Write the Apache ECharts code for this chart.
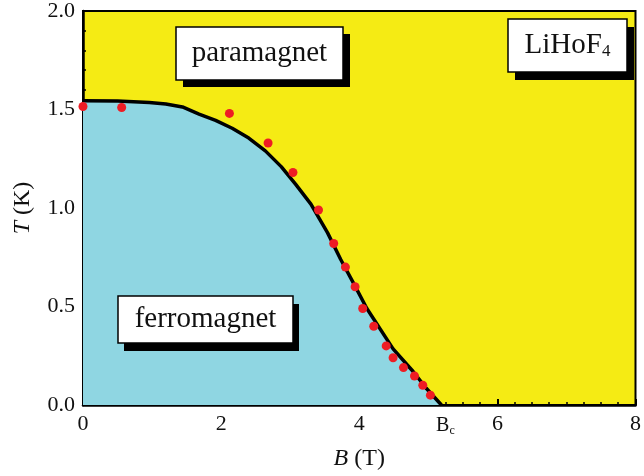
<!DOCTYPE html>
<html><head><meta charset="utf-8">
<script src="https://cdn.jsdelivr.net/npm/echarts@6/dist/echarts.min.js"></script>
<style>html,body{margin:0;padding:0;background:#fff}#c{width:644px;height:476px}</style>
</head><body><div id="c"></div>
<script>
// Phase boundary (mean-field curve): B (T), T (K)
const curveB = [0, 0.5, 0.96, 1.2, 1.44, 1.68, 1.92, 2.16, 2.40, 2.64, 2.87, 3.08, 3.30, 3.54, 3.73, 3.93, 4.11, 4.49, 4.78, 4.97, 5.19];
const curveT = [1.545, 1.543, 1.535, 1.528, 1.513, 1.477, 1.445, 1.405, 1.355, 1.29, 1.21, 1.12, 1.02, 0.875, 0.74, 0.61, 0.49, 0.285, 0.17, 0.085, 0.0];
// Experimental points
const dataB = [0.0, 0.56, 2.12, 2.68, 3.04, 3.41, 3.63, 3.80, 3.94, 4.05, 4.21, 4.39, 4.49, 4.64, 4.80, 4.92, 5.03];
const dataT = [1.515, 1.51, 1.48, 1.33, 1.18, 0.99, 0.82, 0.70, 0.60, 0.49, 0.40, 0.30, 0.24, 0.19, 0.147, 0.10, 0.05];
const xTicks = [0, 2, 4, 6, 8];
const yTicks = [0.0, 0.5, 1.0, 1.5, 2.0];
const Bc = 5.19;

const serif = '"Liberation Serif", "Times New Roman", serif';
const chart = echarts.init(document.getElementById('c'));
const option = {
  animation: false,
  grid: {left: 83, right: 4, top: 8, bottom: 69, show: true, backgroundColor: '#F5EB14', borderColor: '#000', borderWidth: 2},
  xAxis: {
    type: 'value', min: xTicks[0], max: xTicks[xTicks.length-1], interval: 2,
    name: '{i|B} (T)', nameLocation: 'middle', nameGap: 42,
    nameTextStyle: {fontFamily: serif, fontSize: 24, color: '#111', rich: {i: {fontStyle: 'italic', fontFamily: serif, fontSize: 24, color: '#111'}}},
    axisLine: {lineStyle: {color: '#000', width: 2.5}},
    axisTick: {inside: true, length: 6, lineStyle: {color: '#000', width: 2}},
    minorTick: {show: true, splitNumber: 8, length: 3, lineStyle: {color: '#000', width: 1.5}},
    splitLine: {show: false},
    axisLabel: {fontFamily: serif, fontSize: 22, color: '#111', margin: 8, showMaxLabel: true}
  },
  yAxis: {
    type: 'value', min: yTicks[0], max: yTicks[yTicks.length-1], interval: 0.5,
    name: '{i|T} (K)', nameLocation: 'middle', nameGap: 48, nameRotate: 90,
    nameTextStyle: {fontFamily: serif, fontSize: 24, color: '#111', rich: {i: {fontStyle: 'italic', fontFamily: serif, fontSize: 24, color: '#111'}}},
    axisLine: {lineStyle: {color: '#000', width: 2.5}},
    axisTick: {inside: true, length: 6, lineStyle: {color: '#000', width: 2}},
    minorTick: {show: true, splitNumber: 5, length: 3, lineStyle: {color: '#000', width: 1.5}},
    splitLine: {show: false},
    axisLabel: {fontFamily: serif, fontSize: 22, color: '#111', margin: 8, formatter: v => v.toFixed(1)}
  },
  series: [
    {type: 'line', data: curveB.map((b, i) => [b, curveT[i]]), smooth: false, showSymbol: false,
     lineStyle: {color: '#000', width: 3.5, join: 'round'}, areaStyle: {color: '#8FD6E2', opacity: 1}, z: 2},
    {type: 'scatter', data: dataB.map((b, i) => [b, dataT[i]]), symbolSize: 9,
     itemStyle: {color: '#EE1C24', opacity: 1}, z: 5}
  ]
};
chart.setOption(option);

function box(x, y, w, h, text, fs, dx, dy) {
  return [
    {type: 'rect', shape: {x: x + dx, y: y + dy, width: w, height: h}, style: {fill: '#000'}, z: 10},
    {type: 'rect', shape: {x: x, y: y, width: w, height: h}, style: {fill: '#fff', stroke: '#000', lineWidth: 1.5}, z: 11},
    {type: 'text', x: x + w / 2, y: y + h / 2, z: 12,
     style: {text: text, font: fs + 'px ' + serif, fill: '#111', align: 'center', verticalAlign: 'middle',
       rich: {s: {font: Math.round(fs*0.6) + 'px ' + serif, fill: '#111', verticalAlign: 'bottom', padding: [12, 0, 0, 0]}}}}
  ];
}
const bcPx = chart.convertToPixel({gridIndex: 0}, [Bc, 0]);
chart.setOption({graphic: [].concat(
  box(176, 27, 167, 53, 'paramagnet', 29, 7, 7),
  box(508, 19, 119, 53, 'LiHoF{s|4}', 29, 7, 8),
  box(118, 296, 175, 47, 'ferromagnet', 29, 6, 8),
  [{type: 'text', x: bcPx[0] + 4, y: bcPx[1] + 10, z: 12,
    style: {text: 'B{s|c}', font: '20px ' + serif, fill: '#111', align: 'center', verticalAlign: 'top',
      rich: {s: {font: '12px ' + serif, fill: '#111', padding: [10, 0, 0, 0]}}}}]
)});
</script></body></html>
